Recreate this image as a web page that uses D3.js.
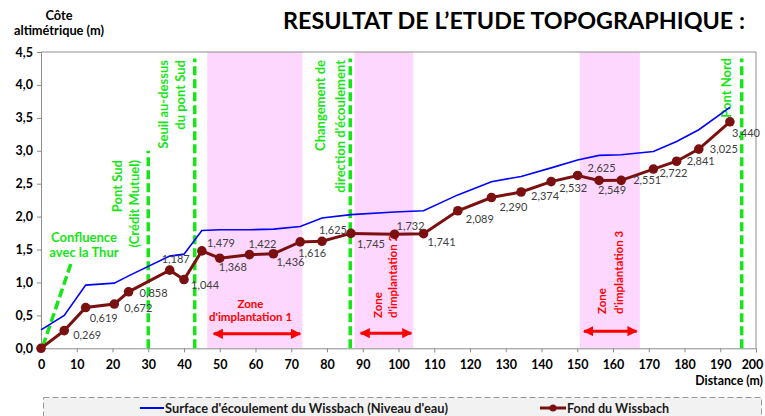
<!DOCTYPE html>
<html>
<head>
<meta charset="utf-8">
<script src="https://cdn.jsdelivr.net/npm/d3@7"></script>
<style>
  body { margin: 0; background: #fff; }
  svg { display: block; font-family: Lato, "Open Sans", sans-serif; }
</style>
</head>
<body>
<svg id="chart" width="765" height="416"></svg>
<script>
// distances (m) of the surveyed points
const dist = [0, 6.5, 12.5, 20.5, 24.5, 36, 40, 45, 50, 58.3, 65, 72.5, 78.6, 86.7, 98.9, 107,
  116.6, 126, 134.3, 142.7, 150.1, 156.1, 162.3, 171.3, 177.8, 184, 192.7];
// Fond du Wissbach (bottom of the stream)
const fond = [0, 0.269, 0.619, 0.672, 0.858, 1.187, 1.044, 1.479, 1.368, 1.422, 1.436, 1.616, 1.625,
  1.745, 1.732, 1.741, 2.089, 2.290, 2.374, 2.532, 2.625, 2.549, 2.551, 2.722, 2.841, 3.025, 3.440];
// Surface d'écoulement (water level)
const surface = [0.28, 0.50, 0.96, 0.99, 1.10, 1.40, 1.43, 1.79, 1.80, 1.80, 1.81, 1.85, 1.98,
  2.03, 2.07, 2.09, 2.33, 2.53, 2.61, 2.74, 2.86, 2.93, 2.94, 2.99, 3.14, 3.32, 3.66];

// label placement for each fond value [dx, dy] in px (null = no label)
const labelOffsets = [null, [9, 4], [4, 10], [10, 4], [11, 1], [-8, -11], [7, 5], [5, -8], [-1, 9],
  [-1, -11], [3, 8], [-2, 11], [-3, -11], [6, 11], [2, -8], [4, 8], [8, 8], [8, 9], [10, 4], [8, 6],
  [10, -7], [-1, 10], [12, 0], [6, 4], [10, 0], [11, 0], [2, 11]];

// green reference lines
const refX = [30, 43, 86.5, 196];
const refTop = [3.0, 4.4, 4.4, 4.4];
const refLabels = [["Pont Sud", "(Crédit Mutuel)"], ["Seuil au-dessus", "du pont Sud"],
  ["Changement de", "direction d'écoulement"], ["Pont Nord"]];

// implantation zones
const zoneStart = [46.5, 87.7, 150.7];
const zoneEnd = [73.1, 104.1, 167.5];
const arrowStart = [48.3, 89.4, 151.9];
const arrowEnd = [72.5, 103.6, 166.6];
const arrowLevel = [0.22, 0.23, 0.26];
const zoneLabels = [["Zone", "d'implantation 1"], ["Zone", "d'implantation 2"], ["Zone", "d'implantation 3"]];

const xTicks = d3.range(0, 201, 10);
const yTicks = d3.range(0, 4.51, 0.5);

const svg = d3.select("#chart");
const x = d3.scaleLinear().domain([0, 200]).range([41, 756]);
const y = d3.scaleLinear().domain([0, 4.5]).range([348.3, 52]);
const green = "#16e616";
const fmt = v => d3.format(".1f")(v).replace(".", ",");

// pink zones
svg.append("g").selectAll("rect")
  .data(zoneStart)
  .enter().append("rect")
  .attr("x", (d, i) => x(d))
  .attr("width", (d, i) => x(zoneEnd[i]) - x(d))
  .attr("y", y(4.5))
  .attr("height", y(0) - y(4.5))
  .attr("fill", "#fdd7fd");

// frame top & right
svg.append("path")
  .attr("d", `M${x(0)},${y(4.5)}H${x(200)}V${y(0)}`)
  .attr("fill", "none").attr("stroke", "#8c8c8c").attr("stroke-width", 1);

// axes
const xAxis = svg.append("g")
  .attr("transform", `translate(0,${y(0)})`)
  .call(d3.axisBottom(x).tickValues(xTicks).tickSize(4).tickPadding(8).tickFormat(d3.format("d")));
const yAxis = svg.append("g")
  .attr("transform", `translate(${x(0)},0)`)
  .call(d3.axisLeft(y).tickValues(yTicks).tickSize(4).tickPadding(4).tickFormat(fmt));
[xAxis, yAxis].forEach(a => {
  a.select(".domain").attr("stroke", "#8c8c8c");
  a.selectAll(".tick line").attr("stroke", "#8c8c8c");
  a.selectAll("text").attr("font-family", "Lato, sans-serif").attr("font-size", 12.5)
    .attr("font-weight", "bold").attr("fill", "#000");
});
// keep the last label inside the page
xAxis.select(".tick:last-of-type text").attr("text-anchor", "end").attr("dx", "0.55em");

// axis titles
svg.append("text").attr("x", 59).attr("y", 20).attr("text-anchor", "middle")
  .attr("font-size", 12.8).attr("font-weight", "bold").text("Côte");
svg.append("text").attr("x", 59).attr("y", 35).attr("text-anchor", "middle")
  .attr("font-size", 12.8).attr("font-weight", "bold").text("altimétrique (m)");
svg.append("text").attr("x", 763).attr("y", 385).attr("text-anchor", "end")
  .attr("font-size", 12.3).attr("font-weight", "bold").text("Distance (m)");

// title
svg.append("text").attr("x", 283).attr("y", 29)
  .attr("font-size", 22).attr("font-weight", "bold").attr("fill", "#000")
  .attr("textLength", 462).attr("lengthAdjust", "spacingAndGlyphs")
  .text("RESULTAT DE L’ETUDE TOPOGRAPHIQUE :");

// green dashed reference lines
svg.append("g").selectAll("line")
  .data(refX)
  .enter().append("line")
  .attr("x1", d => x(d)).attr("x2", d => x(d))
  .attr("y1", y(0)).attr("y2", (d, i) => y(refTop[i]))
  .attr("stroke", green).attr("stroke-width", 3.5).attr("stroke-dasharray", "9,4");

// confluence diagonal
svg.append("line")
  .attr("x1", x(0.5)).attr("y1", y(0.03)).attr("x2", x(8.4)).attr("y2", y(1.29))
  .attr("stroke", green).attr("stroke-width", 3.5).attr("stroke-dasharray", "9,4");

svg.append("text").attr("x", 84).attr("y", 242).attr("text-anchor", "middle")
  .attr("font-size", 13).attr("font-weight", "bold").attr("fill", green).text("Confluence");
svg.append("text").attr("x", 84).attr("y", 257).attr("text-anchor", "middle")
  .attr("font-size", 13).attr("font-weight", "bold").attr("fill", green).text("avec la Thur");

// rotated reference labels
const refLabelPos = [[122, 139, 160], [168, 185, 60], [325, 345, 60], [731, 0, 58]];
refLabels.forEach((lines, i) => {
  lines.forEach((t, j) => {
    const bx = refLabelPos[i][j], by = refLabelPos[i][2];
    svg.append("text")
      .attr("transform", `translate(${bx},${by}) rotate(-90)`)
      .attr("text-anchor", "end")
      .attr("font-size", 13).attr("font-weight", "bold").attr("fill", green)
      .text(t);
  });
});

// red double arrows
const defs = svg.append("defs");
defs.append("marker").attr("id", "arr").attr("viewBox", "0 0 10 10")
  .attr("refX", 9).attr("refY", 5).attr("markerWidth", 3.4).attr("markerHeight", 3.4)
  .attr("orient", "auto-start-reverse").attr("markerUnits", "strokeWidth")
  .append("path").attr("d", "M0,0L10,5L0,10z").attr("fill", "#ff0000");
svg.append("g").selectAll("line")
  .data(arrowStart)
  .enter().append("line")
  .attr("x1", d => x(d)).attr("x2", (d, i) => x(arrowEnd[i]))
  .attr("y1", (d, i) => y(arrowLevel[i])).attr("y2", (d, i) => y(arrowLevel[i]))
  .attr("stroke", "#ff0000").attr("stroke-width", 3)
  .attr("marker-start", "url(#arr)").attr("marker-end", "url(#arr)");

// zone labels
svg.append("text").attr("x", 250.5).attr("y", 308).attr("text-anchor", "middle")
  .attr("font-size", 11.5).attr("font-weight", "bold").attr("fill", "#ff0000").text(zoneLabels[0][0]);
svg.append("text").attr("x", 250.5).attr("y", 321).attr("text-anchor", "middle")
  .attr("font-size", 11.5).attr("font-weight", "bold").attr("fill", "#ff0000").text(zoneLabels[0][1]);
const zoneRotPos = [null, [382, 397, 318], [606, 623, 314]];
[1, 2].forEach(i => {
  zoneLabels[i].forEach((t, j) => {
    svg.append("text")
      .attr("transform", `translate(${zoneRotPos[i][j]},${zoneRotPos[i][2]}) rotate(-90)`)
      .attr("text-anchor", "start")
      .attr("font-size", 11.5).attr("font-weight", "bold").attr("fill", "#ff0000")
      .text(t);
  });
});

// series
const pts = dist.map((d, i) => ({ d: d, f: fond[i], s: surface[i], i: i }));
svg.append("path")
  .datum(pts)
  .attr("fill", "none").attr("stroke", "#0000ff").attr("stroke-width", 1.6)
  .attr("d", d3.line().x(p => x(p.d)).y(p => y(p.s)));
svg.append("path")
  .datum(pts)
  .attr("fill", "none").attr("stroke", "#7b1010").attr("stroke-width", 3)
  .attr("d", d3.line().x(p => x(p.d)).y(p => y(p.f)));
svg.append("g").selectAll("circle")
  .data(pts)
  .enter().append("circle")
  .attr("cx", p => x(p.d)).attr("cy", p => y(p.f)).attr("r", 4.8)
  .attr("fill", "#7b1010");

// data labels
svg.append("g").selectAll("text")
  .data(pts.filter(p => labelOffsets[p.i]))
  .enter().append("text")
  .attr("x", p => x(p.d) + labelOffsets[p.i][0])
  .attr("y", p => y(p.f) + labelOffsets[p.i][1] + 4)
  .attr("font-size", 11).attr("fill", "#404040")
  .text(p => d3.format(".3f")(p.f).replace(".", ","));

// legend
svg.append("rect").attr("x", 43.5).attr("y", 397.5).attr("width", 718).attr("height", 30)
  .attr("fill", "#f2f2f2").attr("stroke", "#999").attr("stroke-dasharray", "6,3");
svg.append("line").attr("x1", 140).attr("x2", 164).attr("y1", 408).attr("y2", 408)
  .attr("stroke", "#0000ff").attr("stroke-width", 2);
svg.append("text").attr("x", 165).attr("y", 412.5).attr("font-size", 12.5).attr("font-weight", "bold")
  .attr("fill", "#1a1a1a").attr("textLength", 283).attr("lengthAdjust", "spacingAndGlyphs")
  .text("Surface d'écoulement du Wissbach (Niveau d'eau)");
svg.append("line").attr("x1", 540).attr("x2", 566).attr("y1", 408).attr("y2", 408)
  .attr("stroke", "#7b1010").attr("stroke-width", 3);
svg.append("circle").attr("cx", 553).attr("cy", 408).attr("r", 3.5).attr("fill", "#7b1010");
svg.append("text").attr("x", 567).attr("y", 412.5).attr("font-size", 12.5).attr("font-weight", "bold")
  .attr("fill", "#1a1a1a").attr("textLength", 102).attr("lengthAdjust", "spacingAndGlyphs")
  .text("Fond du Wissbach");
</script>
</body>
</html>
